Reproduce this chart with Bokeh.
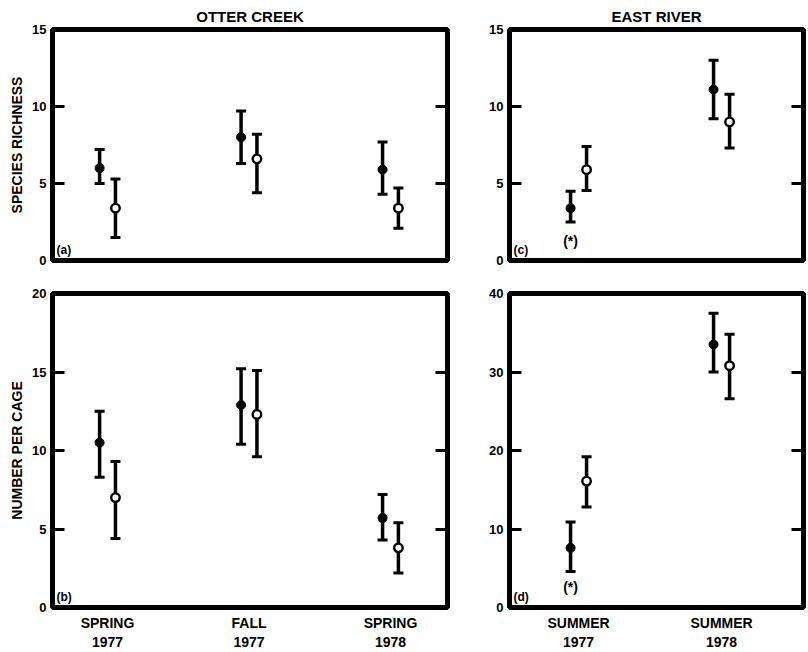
from bokeh.plotting import figure
from bokeh.layouts import column, row
from bokeh.models import Range1d, LinearAxis, FixedTicker, Label
from bokeh.embed import file_html
from bokeh.resources import INLINE

# ---------------- data ----------------
otter_seasons = ["SPRING\n1977", "FALL\n1977", "SPRING\n1978"]
east_seasons = ["SUMMER\n1977", "SUMMER\n1978"]

# (a) Otter Creek species richness
a_closed = [6.0, 8.0, 5.9]
a_closed_lo = [5.0, 6.3, 4.3]
a_closed_hi = [7.2, 9.7, 7.7]
a_open = [3.4, 6.6, 3.4]
a_open_lo = [1.5, 4.4, 2.1]
a_open_hi = [5.3, 8.2, 4.7]

# (b) Otter Creek number per cage
b_closed = [10.5, 12.9, 5.7]
b_closed_lo = [8.3, 10.4, 4.3]
b_closed_hi = [12.5, 15.2, 7.2]
b_open = [7.0, 12.3, 3.8]
b_open_lo = [4.4, 9.6, 2.2]
b_open_hi = [9.3, 15.1, 5.4]

# (c) East River species richness
c_closed = [3.4, 11.1]
c_closed_lo = [2.5, 9.2]
c_closed_hi = [4.5, 13.0]
c_open = [5.9, 9.0]
c_open_lo = [4.55, 7.3]
c_open_hi = [7.4, 10.8]

# (d) East River number per cage
d_closed = [7.6, 33.5]
d_closed_lo = [4.6, 30.0]
d_closed_hi = [10.9, 37.5]
d_open = [16.1, 30.8]
d_open_lo = [12.8, 26.6]
d_open_hi = [19.2, 34.8]

rich_ticks = [0, 5, 10, 15]
num_ticks_otter = [0, 5, 10, 15, 20]
num_ticks_east = [0, 10, 20, 30, 40]

FONT = "Liberation Sans"
OFF = 0.056


def panel(seasons, cl, cl_lo, cl_hi, op, op_lo, op_hi, ticks, xr, width, height,
          borders, bottom, ylabel, title, tag, star_y=None):
    bl, br, bt, bb = borders
    p = figure(width=width, height=height,
               x_range=Range1d(*xr), y_range=Range1d(ticks[0], ticks[-1]),
               output_backend="svg", toolbar_location=None,
               min_border_left=bl, min_border_right=br,
               min_border_top=bt, min_border_bottom=bb)
    p.grid.visible = False
    p.outline_line_color = "black"
    p.outline_line_width = 5
    p.background_fill_color = "white"
    p.border_fill_color = "white"

    ya = p.yaxis[0]
    ya.ticker = FixedTicker(ticks=ticks)
    ya.major_tick_in = 12
    ya.major_tick_out = 0
    ya.major_tick_line_width = 3
    ya.minor_tick_line_color = None
    ya.axis_line_color = None
    ya.major_label_standoff = 6
    ya.major_label_text_font = FONT
    ya.major_label_text_font_style = "bold"
    ya.major_label_text_font_size = "13px"
    ya.major_label_text_color = "black"
    if ylabel:
        ya.axis_label = ylabel
        ya.axis_label_text_font = FONT
        ya.axis_label_text_font_style = "bold"
        ya.axis_label_text_font_size = "14px"
        ya.axis_label_standoff = 4
        ya.axis_label_text_color = "black"

    ra = LinearAxis(ticker=FixedTicker(ticks=ticks[1:-1]))
    ra.major_tick_in = 12
    ra.major_tick_out = 0
    ra.major_tick_line_width = 3
    ra.minor_tick_line_color = None
    ra.axis_line_color = None
    ra.major_label_overrides = {t: "" for t in ticks[1:-1]}
    ra.major_label_standoff = 0
    p.add_layout(ra, "right")

    xa = p.xaxis[0]
    if bottom:
        idx = list(range(1, len(seasons) + 1))
        xa.ticker = FixedTicker(ticks=idx)
        xa.major_label_overrides = {i: s for i, s in zip(idx, seasons)}
        xa.major_tick_in = 0
        xa.major_tick_out = 0
        xa.minor_tick_line_color = None
        xa.axis_line_color = None
        xa.major_label_standoff = 7
        xa.major_label_text_font = FONT
        xa.major_label_text_font_style = "bold"
        xa.major_label_text_font_size = "14px"
        xa.major_label_text_line_height = 1.2
        xa.major_label_text_color = "black"
    else:
        xa.visible = False

    if title:
        p.title.text = title
        p.title.align = "center"
        p.title.text_font = FONT
        p.title.text_font_style = "bold"
        p.title.text_font_size = "15px"
        p.title.text_color = "black"
        p.title.standoff = 10

    xs = list(range(1, len(seasons) + 1))
    xc = [x - OFF for x in xs]
    xo = [x + OFF for x in xs]

    for xx, lo, hi in ((xc, cl_lo, cl_hi), (xo, op_lo, op_hi)):
        p.segment(x0=xx, y0=lo, x1=xx, y1=hi, line_color="black", line_width=3.5)
        p.scatter(xx, lo, marker="dash", size=10, line_color="black", line_width=3)
        p.scatter(xx, hi, marker="dash", size=10, line_color="black", line_width=3)
    p.scatter(xc, cl, size=9, fill_color="black", line_color="black", line_width=1)
    p.scatter(xo, op, size=8.5, fill_color="white", line_color="black", line_width=2.4)

    p.add_layout(Label(x=4, y=4, x_units="screen", y_units="screen", text=tag,
                       text_font=FONT, text_font_style="bold", text_font_size="12px",
                       text_color="black"))
    if star_y is not None:
        p.add_layout(Label(x=1 - OFF, y=star_y, y_units="screen", text="(*)",
                           text_align="center", text_baseline="middle",
                           text_font=FONT, text_font_style="bold",
                           text_font_size="14px", text_color="black"))
    return p


LW, RW = 477, 331
TOP_H, BOT_H = 275, 377
xr_left = (0.611, 3.403)
xr_right = (0.517, 2.573)

pa = panel(otter_seasons, a_closed, a_closed_lo, a_closed_hi, a_open, a_open_lo, a_open_hi,
           rich_ticks, xr_left, LW, TOP_H, (52, 30, 28, 15), False,
           "SPECIES RICHNESS", "OTTER CREEK", "(a)")
pc = panel(east_seasons, c_closed, c_closed_lo, c_closed_hi, c_open, c_open_lo, c_open_hi,
           rich_ticks, xr_right, RW, TOP_H, (32, 5, 28, 15), False,
           None, "EAST RIVER", "(c)", star_y=20)
pb = panel(otter_seasons, b_closed, b_closed_lo, b_closed_hi, b_open, b_open_lo, b_open_hi,
           num_ticks_otter, xr_left, LW, BOT_H, (52, 30, 15, 45), True,
           "NUMBER PER CAGE", None, "(b)")
pd_ = panel(east_seasons, d_closed, d_closed_lo, d_closed_hi, d_open, d_open_lo, d_open_hi,
            num_ticks_east, xr_right, RW, BOT_H, (32, 5, 18, 44), True,
            None, None, "(d)", star_y=21)

layout = column(row(pa, pc), row(pb, pd_))
open("out.html", "w").write(file_html(layout, INLINE))
